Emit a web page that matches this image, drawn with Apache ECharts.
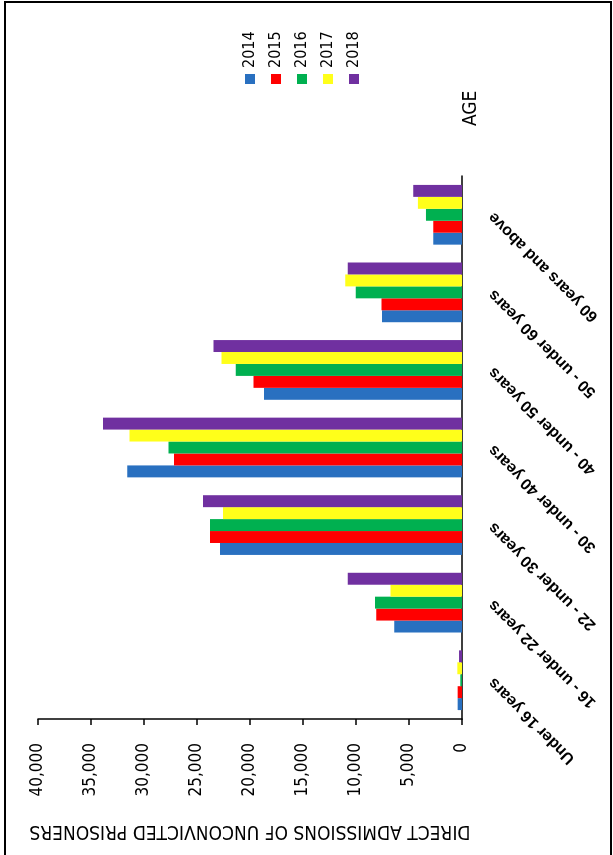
<!DOCTYPE html>
<html>
<head>
<meta charset="utf-8">
<script src="https://cdn.jsdelivr.net/npm/echarts@6/dist/echarts.min.js"></script>
<style>
  html, body { margin: 0; padding: 0; background: #fff; }
  #wrap { position: relative; width: 613px; height: 855px; overflow: hidden; background: #fff; }
  #chart { position: absolute; left: 0; top: 0; width: 855px; height: 613px;
           transform-origin: 0 0; transform: translateY(855px) rotate(-90deg); }
</style>
</head>
<body>
<div id="wrap"><div id="chart"></div></div>
<script>
// ---- data ----
const categories = ['Under 16 years', '16 - under 22 years', '22 - under 30 years', '30 - under 40 years', '40 - under 50 years', '50 - under 60 years', '60 years and above'];
const years = ['2014', '2015', '2016', '2017', '2018'];
const values2014 = [410, 6400, 22830, 31590, 18690, 7540, 2710];
const values2015 = [410, 8080, 23780, 27180, 19670, 7600, 2710];
const values2016 = [160, 8200, 23780, 27680, 21340, 10030, 3400];
const values2017 = [440, 6750, 22550, 31370, 22700, 11010, 4160];
const values2018 = [280, 10780, 24440, 33860, 23450, 10780, 4600];
const valueTicks = [0, 5000, 10000, 15000, 20000, 25000, 30000, 35000, 40000];
const valueAxisTitle = 'DIRECT ADMISSIONS OF UNCONVICTED PRISONERS';
const categoryAxisTitle = 'AGE';

// ---- styles ----
const colors = ['#2970c0', '#ff0000', '#00b050', '#ffff1a', '#7030a0'];
const narrow = "'Liberation Sans Narrow', 'Arial Narrow', 'DejaVu Sans Condensed', sans-serif";
const seriesValues = [values2014, values2015, values2016, values2017, values2018];

const chart = echarts.init(document.getElementById('chart'), null, { renderer: 'canvas' });
chart.setOption({
  animation: false,
  backgroundColor: '#fff',
  color: colors,
  graphic: [{
    type: 'rect', silent: true,
    shape: { x: -5, y: 5, width: 858, height: 606 },
    style: { fill: 'none', stroke: '#000', lineWidth: 2 }
  }],
  legend: {
    orient: 'vertical', left: 771, top: 242, padding: 0,
    itemWidth: 10, itemHeight: 10, itemGap: 10, icon: 'rect',
    textStyle: { fontFamily: narrow, fontSize: 16, lineHeight: 16, color: '#000', padding: [0, 0, 0, 1] },
    data: years
  },
  grid: { left: 136, right: 176, top: 38, bottom: 151, containLabel: false },
  xAxis: {
    type: 'category', data: categories,
    name: categoryAxisTitle, nameLocation: 'end', nameGap: 50,
    nameTextStyle: { fontFamily: narrow, fontSize: 19, lineHeight: 19, color: '#000', align: 'left', verticalAlign: 'top', padding: [0, 0, 0, 0] },
    axisLine: { show: true, lineStyle: { color: '#000', width: 1.5 } },
    axisTick: { show: false },
    axisLabel: { interval: 0, rotate: 45, margin: 29, fontFamily: "'Liberation Sans', Arial, sans-serif", fontWeight: 'bold', fontSize: 16, color: '#000' },
    splitLine: { show: false }
  },
  yAxis: {
    type: 'value',
    min: valueTicks[0], max: valueTicks[valueTicks.length - 1], interval: valueTicks[1] - valueTicks[0],
    name: valueAxisTitle, nameLocation: 'middle', nameGap: 102, nameRotate: 90,
    nameTextStyle: { fontFamily: narrow, fontSize: 19, color: '#000' },
    axisLine: { show: true, lineStyle: { color: '#000', width: 1.5 } },
    axisTick: { show: true, length: 6, lineStyle: { color: '#000', width: 1.5 } },
    axisLabel: { margin: 24, fontFamily: narrow, fontSize: 17, color: '#000',
      formatter: v => v.toLocaleString('en-US') },
    splitLine: { show: false }
  },
  series: years.map((y, i) => ({
    name: y, type: 'bar', data: seriesValues[i],
    barGap: '0%', barCategoryGap: '23%',
    itemStyle: { color: colors[i] }
  }))
});
</script>
</body>
</html>
